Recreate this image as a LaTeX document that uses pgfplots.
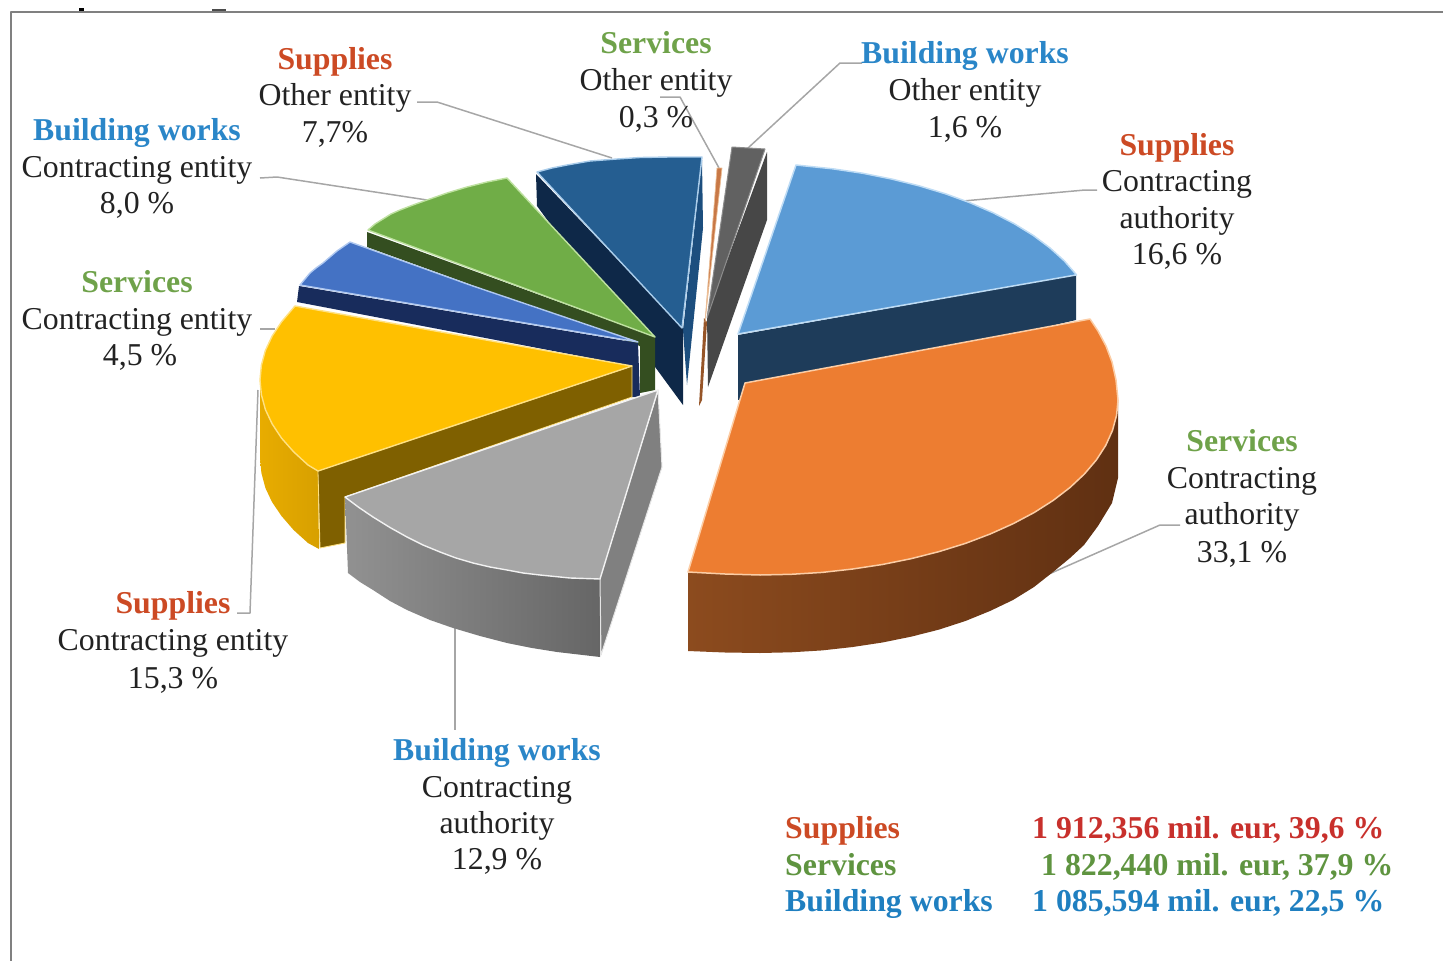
\documentclass[border=0pt]{standalone}
\usepackage{pgfplots}
\pgfplotsset{compat=1.18}
\usepackage{fontspec}
\setmainfont{Liberation Serif}
\definecolor{cSup}{HTML}{CC4A24}
\definecolor{cSer}{HTML}{6FA24A}
\definecolor{cBui}{HTML}{2A86C8}
\definecolor{lSup}{HTML}{C8302C}
\definecolor{lSer}{HTML}{5F9440}
\definecolor{lBui}{HTML}{1F7FC0}
\definecolor{txt}{HTML}{222222}
\definecolor{lead}{HTML}{A6A6A6}
\newcommand{\txtl}[4]{\node[anchor=base,text=#3,inner sep=0pt] at (axis cs:#1,#2) {\fontsize{31.8}{36}\selectfont #4};}
\newcommand{\boldl}[4]{\node[anchor=base,text=#3,inner sep=0pt] at (axis cs:#1,#2) {\fontsize{31.8}{36}\selectfont\bfseries #4};}
\newcommand{\lgd}[4]{\node[anchor=base west,text=#3,inner sep=0pt] at (axis cs:#1,#2) {\fontsize{31.8}{36}\selectfont\bfseries #4};}
\begin{document}
\begin{tikzpicture}
\path[use as bounding box] (0,0) rectangle (1443pt,961pt);
\begin{axis}[at={(0,0)},anchor=south west,scale only axis,width=1443pt,height=961pt,xmin=0,xmax=1443,ymin=0,ymax=961,y dir=reverse,axis lines=none,no markers,clip=true,
 every axis plot/.append style={line join=round}]
% frame
\addplot[color=black!50,line width=2.2pt] coordinates {(11,961)(11,12)(1443,12)};
\addplot[color=black,line width=3pt] coordinates {(79,9)(84,9)};
\addplot[color=black!70,line width=2pt] coordinates {(212,10)(226,10)};
% leader lines
\addplot[color=lead,line width=1.5pt] coordinates {(417,102)(437,102)(612,158)};
\addplot[color=lead,line width=1.5pt] coordinates {(260,178)(277,177)(427,200)};
\addplot[color=lead,line width=1.5pt] coordinates {(260,329)(275,329)};
\addplot[color=lead,line width=1.5pt] coordinates {(660,97)(680,97)(719,168)};
\addplot[color=lead,line width=1.5pt] coordinates {(862,63)(840,63)(748,148)};
\addplot[color=lead,line width=1.5pt] coordinates {(1097,190)(1085,190)(963,201)};
\addplot[color=lead,line width=1.5pt] coordinates {(1180,525)(1160,525)(1040,578)};
\addplot[color=lead,line width=1.5pt] coordinates {(237,613)(250,613)(258,390)};
\addplot[color=lead,line width=1.5pt] coordinates {(455,628)(455,730)};
% dark grey slice
\addplot[fill=black!72,draw=none] coordinates {(767,152)(767,220)(708,387)(707,315)} --cycle;
\addplot[fill=black!62,draw=black!45,line width=1pt] coordinates {(732,147)(765,149)(707,318)} --cycle;
% small orange slice
\addplot[fill={rgb,255:red,150;green,85;blue,40},draw=none] coordinates {(704,318)(707,322)(702,400)(699,406)} --cycle;
\addplot[fill={rgb,255:red,200;green,120;blue,70},draw={rgb,255:red,235;green,190;blue,150},line width=.7pt] coordinates {(717,168)(722,168)(705,322)} --cycle;
% dark blue slice
\addplot[fill={rgb,255:red,28;green,78;blue,126},draw=none] coordinates {(702,160)(703,228)(687,385)(683,330)} --cycle;
\addplot[fill={rgb,255:red,14;green,40;blue,72},draw=none] coordinates {(536,174)(683,328)(683,405)(537,206)} --cycle;
\addplot[fill={rgb,255:red,37;green,94;blue,145},draw={rgb,255:red,170;green,205;blue,235},line width=1.4pt] coordinates {(537,172)(552,168)(567,165)(590,161)(617,159)(640,157.5)(670,157)(702,157)(682,328)} --cycle;
% green slice
\addplot[fill={rgb,255:red,52;green,78;blue,32},draw=none] coordinates {(367,232)(655,337)(655,390)(640,393)(640,346)(367,247)} --cycle;
\addplot[fill={rgb,255:red,112;green,173;blue,71},draw={rgb,255:red,190;green,225;blue,160},line width=1.4pt] coordinates {(368,230)(375,224)(383,219)(391,214)(400,210)(413,205)(427,200)(447,193)(467,187)(487,182)(507,178)(655,337)} --cycle;
% royal blue slice
\addplot[fill={rgb,255:red,24;green,44;blue,92},draw=none] coordinates {(299,286)(638,343)(640,397)(632,397)(632,366)(297,302)} --cycle;
\addplot[fill={rgb,255:red,68;green,114;blue,196},draw={rgb,255:red,175;green,200;blue,240},line width=1.4pt] coordinates {(300,285)(305,279)(310,273)(316,268)(323,263)(330,257)(337,251)(350,242)(470,285)(638,342)} --cycle;
% light blue slice
\addplot[fill={rgb,255:red,30;green,60;blue,90},draw=none] coordinates {(1076,275)(1076,320)(738,400)(738,335)} --cycle;
\addplot[fill={rgb,255:red,91;green,155;blue,213},draw={rgb,255:red,190;green,220;blue,245},line width=1.5pt] coordinates {(796,165)(832.7,168.8)(862.4,173.2)(891.4,179)(919,185.8)(945.5,193.8)(970.2,202.8)(993.1,212.8)(1014.2,223.7)(1033.2,235.4)(1050,248)(1064.4,261)(1076.5,274.9)(738,334)} --cycle;
% yellow slice
\addplot[shade,left color={rgb,255:red,232;green,172;blue,0},right color={rgb,255:red,215;green,160;blue,0},draw=none] coordinates {(260,380)(260,458)(261.4,473)(265.4,488)(272,502)(281.5,516)(293.6,530)(308,543)(319,549)(318,471)} --cycle;
\addplot[fill={rgb,255:red,127;green,96;blue,0},draw={rgb,255:red,255;green,225;blue,130},line width=.8pt] coordinates {(318,471)(632,366)(632,397)(345,497)(345,543)(320,548)} --cycle;
\addplot[fill={rgb,255:red,255;green,192;blue,0},draw={rgb,255:red,255;green,225;blue,130},line width=1.4pt] coordinates {(295,306)(281.5,321.9)(272.2,336)(265.4,350.4)(261.4,365.2)(260,380)(261.4,394.8)(265.4,409.6)(272.2,424)(281.5,438.1)(293.6,451.8)(308,465)(318,471)(632,366)} --cycle;
% orange slice
\addplot[shade,left color={rgb,255:red,140;green,75;blue,30},middle color={rgb,255:red,102;green,52;blue,20},right color={rgb,255:red,96;green,48;blue,18},draw=none] coordinates {(1118,400)(1118,478)(1112,503)(1098,526)(1084,545)(1070,558)(1053,572)(1034,587)(1013,600)(990,611)(965.4,621)(939,629.6)(911.4,636.6)(882.4,642.5)(852.7,647)(822.3,650.4)(791.2,652.3)(760,653)(725,652.5)(688,651)(688,572)} --cycle;
\addplot[fill={rgb,255:red,237;green,125;blue,49},draw={rgb,255:red,252;green,205;blue,165},line width=1.5pt] coordinates {(745,383)(1090,319)(1098,331)(1106,346)(1112,362)(1116,380)(1118,400)(1116.6,415.2)(1112.5,430.4)(1105.8,445.3)(1096.4,459.9)(1084.4,474)(1070,487.5)(1053.2,500.4)(1034.2,512.5)(1013.1,523.7)(990.2,534)(965.4,543.4)(939,551.6)(911.4,558.6)(882.4,564.5)(852.7,569)(822.3,572.4)(791.2,574.3)(760,575)(725,574)(688,572)} --cycle;
% grey slice
\addplot[shade,left color=black!43,right color=black!60,draw=none] coordinates {(345,497)(359,507.5)(373,517)(390,527.5)(407,537)(423,545)(440,552)(456,558)(473,563)(490,567)(507,570)(523,573)(540,575)(570,578)(600,579)(600,657)(557,652)(532,648)(507,643)(480,636)(453,628)(430,620)(407,610)(390,601)(373,590)(360,582)(348,573)} --cycle;
\addplot[fill=black!50,draw=black!10,line width=1pt] coordinates {(600,578)(658,390)(662,467)(601,655)} --cycle;
\addplot[fill=black!35,draw=black!5,line width=1.4pt] coordinates {(658,390)(345,497)(359,507.5)(373,517)(390,527.5)(407,537)(423,545)(440,552)(456,558)(473,563)(490,567)(507,570)(523,573)(540,575)(570,578)(600,579)} --cycle;
% labels
\boldl{656}{53}{cSer}{Services} \txtl{656}{90}{txt}{Other entity} \txtl{656}{127}{txt}{0,3 \%}
\boldl{965}{63}{cBui}{Building works} \txtl{965}{100}{txt}{Other entity} \txtl{965}{137}{txt}{1,6 \%}
\boldl{335}{69}{cSup}{Supplies} \txtl{335}{105}{txt}{Other entity} \txtl{335}{142}{txt}{7,7\%}
\boldl{137}{140}{cBui}{Building works} \txtl{137}{177}{txt}{Contracting entity} \txtl{137}{213}{txt}{8,0 \%}
\boldl{137}{292}{cSer}{Services} \txtl{137}{329}{txt}{Contracting entity} \txtl{140}{365}{txt}{4,5 \%}
\boldl{173}{613}{cSup}{Supplies} \txtl{173}{650}{txt}{Contracting entity} \txtl{173}{688}{txt}{15,3 \%}
\boldl{497}{760}{cBui}{Building works} \txtl{497}{797}{txt}{Contracting} \txtl{497}{833}{txt}{authority} \txtl{497}{869}{txt}{12,9 \%}
\boldl{1242}{451}{cSer}{Services} \txtl{1242}{488}{txt}{Contracting} \txtl{1242}{524}{txt}{authority} \txtl{1242}{562}{txt}{33,1 \%}
\boldl{1177}{155}{cSup}{Supplies} \txtl{1177}{191}{txt}{Contracting} \txtl{1177}{228}{txt}{authority} \txtl{1177}{264}{txt}{16,6 \%}
\lgd{785}{838}{cSup}{Supplies} \lgd{1032}{838}{lSup}{1 912,356 mil. eur, 39,6 \%}
\lgd{785}{875}{lSer}{Services} \lgd{1041}{875}{lSer}{1 822,440 mil. eur, 37,9 \%}
\lgd{785}{911}{lBui}{Building works} \lgd{1032}{911}{lBui}{1 085,594 mil. eur, 22,5 \%}
\end{axis}
\end{tikzpicture}
\end{document}
